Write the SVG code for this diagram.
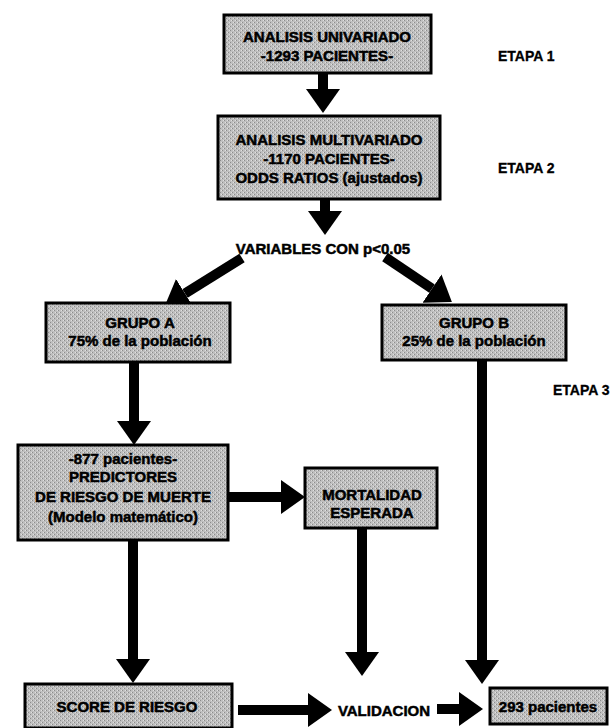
<svg xmlns="http://www.w3.org/2000/svg" width="615" height="728" viewBox="0 0 615 728">
<defs>
<marker id="ah" viewBox="0 -17 24 34" refX="0" refY="0" markerWidth="24" markerHeight="34" markerUnits="userSpaceOnUse" orient="auto">
<path d="M0,-17 L24,0 L0,17 z" fill="#000"/>
</marker>
<pattern id="dither" width="4" height="4" patternUnits="userSpaceOnUse">
<rect width="4" height="4" fill="#bfbfbf"/>
<rect x="0" y="0" width="1" height="1" fill="#8c8c8c"/>
<rect x="2" y="2" width="1" height="1" fill="#8c8c8c"/>
<rect x="3" y="0" width="1" height="1" fill="#e0e0e0"/>
<rect x="1" y="2" width="1" height="1" fill="#e0e0e0"/>
</pattern>
</defs>
<style>
.box{fill:url(#dither);stroke:#000;stroke-width:3}
.t{font-family:"Liberation Sans",Arial,sans-serif;font-weight:bold;font-size:15px;fill:#000;stroke:#000;stroke-width:0.5;text-anchor:middle}
.l{font-family:"Liberation Sans",Arial,sans-serif;font-weight:bold;font-size:14px;fill:#000;stroke:#000;stroke-width:0.3}
.c{stroke:#000;stroke-width:10;fill:none;marker-end:url(#ah)}
</style>
<rect width="615" height="728" fill="#fff"/>

<g id="connectors">
<line class="c" x1="323" y1="73" x2="323" y2="89"/>
<line class="c" x1="325" y1="200" x2="325" y2="211"/>
<line class="c" x1="242" y1="258" x2="185" y2="293.5"/>
<line class="c" x1="385" y1="257" x2="432" y2="288.6"/>
<line class="c" x1="134" y1="362" x2="134" y2="421"/>
<line class="c" x1="482" y1="360" x2="482" y2="660"/>
<line class="c" x1="228" y1="497" x2="281" y2="497"/>
<line class="c" x1="362" y1="528" x2="362" y2="652"/>
<line class="c" x1="133" y1="540" x2="133" y2="659"/>
<line class="c" x1="238" y1="710" x2="308" y2="710"/>
<line class="c" x1="437" y1="709" x2="459" y2="709"/>
</g>

<g id="n1">
<rect class="box" x="224" y="15" width="207" height="58"/>
<text class="t" x="327" y="42">ANALISIS UNIVARIADO</text>
<text class="t" x="327" y="61">-1293 PACIENTES-</text>
</g>
<g id="n2">
<rect class="box" x="218" y="116" width="222" height="83"/>
<text class="t" x="329" y="145">ANALISIS MULTIVARIADO</text>
<text class="t" x="329" y="164">-1170 PACIENTES-</text>
<text class="t" x="329" y="183">ODDS RATIOS (ajustados)</text>
</g>
<g id="n3">
<text class="t" x="323" y="254">VARIABLES CON p&lt;0.05</text>
</g>
<g id="n4">
<rect class="box" x="46" y="303" width="184" height="59"/>
<text class="t" x="140" y="328">GRUPO A</text>
<text class="t" x="140" y="346">75% de la población</text>
</g>
<g id="n5">
<rect class="box" x="382" y="305" width="184" height="55"/>
<text class="t" x="474" y="328">GRUPO B</text>
<text class="t" x="474" y="346">25% de la población</text>
</g>
<g id="n6">
<rect class="box" x="18" y="445" width="210" height="95"/>
<text class="t" x="123" y="464">-877 pacientes-</text>
<text class="t" x="123" y="482">PREDICTORES</text>
<text class="t" x="123" y="502">DE RIESGO DE MUERTE</text>
<text class="t" x="123" y="522">(Modelo matemático)</text>
</g>
<g id="n7">
<rect class="box" x="305" y="468" width="132" height="60"/>
<text class="t" x="372" y="500">MORTALIDAD</text>
<text class="t" x="372" y="518">ESPERADA</text>
</g>
<g id="n8">
<rect class="box" x="25" y="684" width="207" height="44"/>
<text class="t" x="127" y="712">SCORE DE RIESGO</text>
</g>
<g id="n9">
<text class="t" x="384" y="716">VALIDACION</text>
</g>
<g id="n10">
<rect class="box" x="490" y="688" width="117" height="36"/>
<text class="t" x="548" y="712">293 pacientes</text>
</g>
<g id="labels">
<text class="l" x="498" y="61">ETAPA 1</text>
<text class="l" x="498" y="173">ETAPA 2</text>
<text class="l" x="553" y="395">ETAPA 3</text>
</g>
</svg>
